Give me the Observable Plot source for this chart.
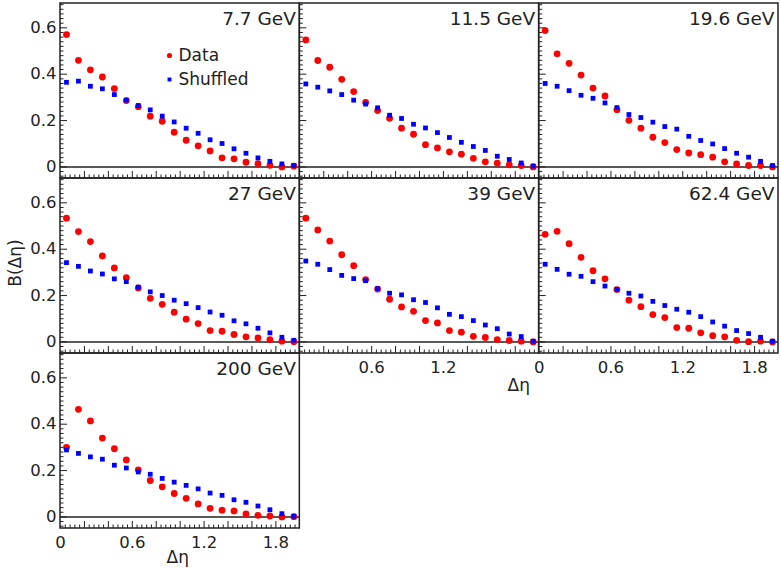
<!DOCTYPE html>
<html><head><meta charset="utf-8">
<script src="https://cdn.jsdelivr.net/npm/d3@7"></script>
<script src="https://cdn.jsdelivr.net/npm/@observablehq/plot@0.6"></script>
<style>body{margin:0;background:#fff}</style>
</head><body><div id="chart"></div>
<script>
const energies = ["7.7 GeV","11.5 GeV","19.6 GeV","27 GeV","39 GeV","62.4 GeV","200 GeV"];
const deltaEta = [0.05,0.15,0.25,0.35,0.45,0.55,0.65,0.75,0.85,0.95,1.05,1.15,1.25,1.35,1.45,1.55,1.65,1.75,1.85,1.95];

const data77  = [0.571,0.460,0.419,0.388,0.338,0.286,0.260,0.219,0.197,0.150,0.115,0.091,0.069,0.039,0.035,0.020,0.014,0.007,0.000,0.003];
const shuf77  = [0.365,0.370,0.348,0.337,0.312,0.288,0.265,0.246,0.219,0.194,0.167,0.145,0.117,0.101,0.078,0.059,0.039,0.024,0.013,0.006];
const data115 = [0.548,0.459,0.430,0.378,0.325,0.278,0.243,0.210,0.167,0.141,0.096,0.082,0.065,0.055,0.037,0.022,0.016,0.009,0.006,0.000];
const shuf115 = [0.358,0.344,0.328,0.312,0.288,0.271,0.255,0.223,0.209,0.184,0.168,0.148,0.127,0.106,0.088,0.071,0.046,0.032,0.017,0.004];
const data196 = [0.588,0.488,0.447,0.396,0.340,0.306,0.247,0.201,0.167,0.128,0.105,0.075,0.060,0.053,0.042,0.022,0.013,0.006,0.006,0.000];
const shuf196 = [0.360,0.348,0.329,0.309,0.296,0.276,0.256,0.226,0.213,0.193,0.174,0.163,0.132,0.114,0.099,0.079,0.059,0.042,0.024,0.006];
const data27  = [0.534,0.476,0.433,0.371,0.319,0.277,0.233,0.188,0.162,0.128,0.098,0.079,0.049,0.046,0.032,0.022,0.017,0.010,0.003,0.001];
const shuf27  = [0.342,0.326,0.306,0.293,0.272,0.260,0.236,0.216,0.200,0.180,0.165,0.148,0.129,0.115,0.091,0.078,0.059,0.039,0.020,0.007];
const data39  = [0.534,0.483,0.435,0.376,0.329,0.269,0.228,0.184,0.151,0.132,0.092,0.082,0.049,0.042,0.024,0.019,0.010,0.006,0.003,0.000];
const shuf39  = [0.349,0.335,0.312,0.287,0.273,0.264,0.230,0.210,0.203,0.182,0.170,0.147,0.119,0.109,0.092,0.073,0.057,0.034,0.023,0.003];
const data624 = [0.464,0.477,0.424,0.365,0.307,0.272,0.226,0.180,0.152,0.118,0.105,0.062,0.059,0.039,0.027,0.022,0.007,0.001,0.003,0.000];
const shuf624 = [0.335,0.313,0.292,0.283,0.260,0.241,0.226,0.210,0.198,0.175,0.157,0.141,0.128,0.109,0.086,0.068,0.049,0.036,0.020,0.003];
const data200 = [0.300,0.464,0.414,0.340,0.294,0.246,0.203,0.157,0.130,0.101,0.080,0.056,0.037,0.029,0.026,0.013,0.007,0.004,0.000,0.001];
const shuf200 = [0.289,0.274,0.259,0.249,0.223,0.211,0.194,0.184,0.166,0.150,0.136,0.121,0.103,0.093,0.074,0.063,0.047,0.031,0.014,0.003];

const yTickLabels = [0, 0.2, 0.4, 0.6];
const xTickLabels = [0, 0.6, 1.2, 1.8];

const dataSeries = [data77, data115, data196, data27, data39, data624, data200];
const shufSeries = [shuf77, shuf115, shuf196, shuf27, shuf39, shuf624, shuf200];

const panels = energies.map((e, i) => ({label: e, col: i % 3, row: Math.floor(i / 3)}));
const dataPts = [], shufPts = [];
panels.forEach((p, i) => {
  deltaEta.forEach((x, j) => {
    dataPts.push({col: p.col, row: p.row, x, y: dataSeries[i][j]});
    shufPts.push({col: p.col, row: p.row, x, y: shufSeries[i][j]});
  });
});

const Y0 = -0.05, Y1 = 0.705, X0 = 0, X1 = 2;
// inward tick marks
const xTicks = [], yTicks = [];
panels.forEach(p => {
  d3.range(0, 50).forEach(k => {
    const v = k * 0.04;
    if (v <= 0 || v >= 1.99) return;
    xTicks.push({col: p.col, row: p.row, v, major: k % 5 === 0});
  });
  d3.range(-2, 36).forEach(k => {
    const v = k * 0.02;
    if (v <= Y0 || v >= Y1) return;
    yTicks.push({col: p.col, row: p.row, v, major: k % 10 === 0});
  });
});
const yLabelData = [];
panels.filter(p => p.col === 0).forEach(p => yTickLabels.forEach(v => yLabelData.push({col: p.col, row: p.row, v})));
const xLabelData = [];
xTickLabels.filter(v => v > 0 && v < 1.5).forEach(v => xLabelData.push({col: 1, row: 1, v}));
xTickLabels.forEach(v => xLabelData.push({col: 2, row: 1, v}));
xTickLabels.forEach(v => xLabelData.push({col: 0, row: 2, v}));

const ink = "#222";
const pxX = 239.33 / (X1 - X0), pxY = 175 / (Y1 - Y0);

const chart = Plot.plot({
  width: 781, height: 568,
  marginLeft: 60, marginRight: 3, marginTop: 3, marginBottom: 40,
  style: {fontFamily: "DejaVu Sans", fontSize: "16.5px", color: ink, background: "white", overflow: "visible"},
  fx: {domain: [0, 1, 2], padding: 0, axis: null, round: false},
  fy: {domain: [0, 1, 2], padding: 0, axis: null, round: false},
  x: {domain: [X0, X1], axis: null},
  y: {domain: [Y0, Y1], axis: null},
  marks: [
    Plot.ruleY(panels, {fx: "col", fy: "row", y: 0, stroke: ink, strokeWidth: 1.5}),
    Plot.ruleX(xTicks, {fx: "col", fy: "row", x: "v", y1: Y0, y2: d => Y0 + (d.major ? 7 : 3.5) / pxY, stroke: ink, strokeWidth: 1}),
    Plot.ruleY(yTicks, {fx: "col", fy: "row", y: "v", x1: X0, x2: d => X0 + (d.major ? 7 : 3.5) / pxX, stroke: ink, strokeWidth: 1}),
    Plot.dot(dataPts, {fx: "col", fy: "row", x: "x", y: "y", r: 3.4, fill: "#ff0000"}),
    Plot.dot(shufPts, {fx: "col", fy: "row", x: "x", y: "y", r: 2.7, symbol: "square", fill: "#0000ff"}),
    Plot.rect(panels, {fx: "col", fy: "row", fill: "none", stroke: ink, strokeWidth: 1.5}),
    Plot.text(panels, {fx: "col", fy: "row", text: "label", frameAnchor: "top-right", dx: -4, dy: 16, fontSize: 18.5, textAnchor: "end", lineAnchor: "middle"}),
    Plot.text(yLabelData, {fx: "col", fy: "row", y: "v", text: d => String(d.v), frameAnchor: "left", dx: -4, textAnchor: "end", lineAnchor: "middle"}),
    Plot.text(xLabelData, {fx: "col", fy: "row", x: "v", text: d => String(d.v), frameAnchor: "bottom", dy: 14, lineAnchor: "middle"}),
    // axis titles
    Plot.text([panels[4]], {fx: "col", fy: "row", x: 1.83, text: () => "Δη", frameAnchor: "bottom", dy: 32, fontSize: 17, lineAnchor: "middle"}),
    Plot.text([panels[6]], {fx: "col", fy: "row", x: 0.98, text: () => "Δη", frameAnchor: "bottom", dy: 29, fontSize: 17, lineAnchor: "middle"}),
    Plot.text([panels[3]], {fx: "col", fy: "row", text: () => "B(Δη)", frameAnchor: "left", dx: -45, dy: -3, rotate: -90, fontSize: 17, textAnchor: "middle", lineAnchor: "middle"}),
    // legend
    Plot.dot([panels[0]], {fx: "col", fy: "row", frameAnchor: "top-left", dx: 109, dy: 52, r: 2.6, fill: "#ff0000"}),
    Plot.dot([panels[0]], {fx: "col", fy: "row", frameAnchor: "top-left", dx: 109, dy: 76, r: 2.2, symbol: "square", fill: "#0000ff"}),
    Plot.text([panels[0]], {fx: "col", fy: "row", frameAnchor: "top-left", dx: 118, dy: 52, text: () => "Data", textAnchor: "start", lineAnchor: "middle", fontSize: 17}),
    Plot.text([panels[0]], {fx: "col", fy: "row", frameAnchor: "top-left", dx: 118, dy: 76, text: () => "Shuffled", textAnchor: "start", lineAnchor: "middle", fontSize: 17})
  ]
});
document.getElementById("chart").appendChild(chart);
</script>
</body></html>
